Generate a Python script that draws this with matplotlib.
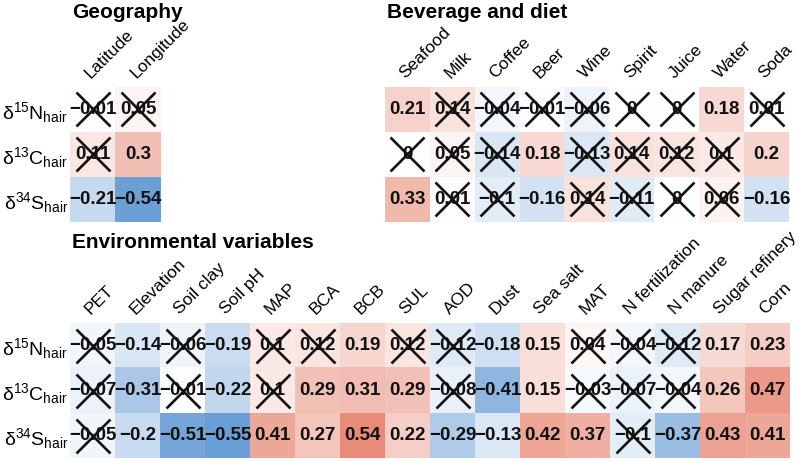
import numpy as np
import matplotlib
matplotlib.use("Agg")
import matplotlib.pyplot as plt
from matplotlib.colors import LinearSegmentedColormap, Normalize

plt.rcParams['font.family'] = ['Liberation Sans', 'DejaVu Sans']
plt.rcParams['mathtext.fontset'] = 'custom'
plt.rcParams['mathtext.rm'] = 'Liberation Sans'
plt.rcParams['mathtext.it'] = 'Liberation Sans:italic'

rows = ['\u03b4$^{15}$N$_{\\mathrm{hair}}$',
        '\u03b4$^{13}$C$_{\\mathrm{hair}}$',
        '\u03b4$^{34}$S$_{\\mathrm{hair}}$']

# Geography
geo_cols = ["Latitude", "Longitude"]
geo_N = [-0.01, 0.05]
geo_C = [0.11, 0.3]
geo_S = [-0.21, -0.54]
geo_ns_N = [1, 1]
geo_ns_C = [1, 0]
geo_ns_S = [0, 0]

# Beverage and diet
bev_cols = ["Seafood", "Milk", "Coffee", "Beer", "Wine", "Spirit", "Juice", "Water", "Soda"]
bev_N = [0.21, 0.14, -0.04, -0.01, -0.06, 0.0, 0.0, 0.18, 0.01]
bev_C = [0.0, 0.05, -0.14, 0.18, -0.13, 0.14, 0.12, 0.1, 0.2]
bev_S = [0.33, 0.01, -0.1, -0.16, 0.14, -0.11, 0.0, 0.06, -0.16]
bev_ns_N = [0, 1, 1, 1, 1, 1, 1, 0, 1]
bev_ns_C = [1, 1, 1, 0, 1, 1, 1, 1, 0]
bev_ns_S = [0, 1, 1, 0, 1, 1, 1, 1, 0]

# Environmental variables
env_cols = ["PET", "Elevation", "Soil clay", "Soil pH", "MAP", "BCA", "BCB", "SUL", "AOD",
            "Dust", "Sea salt", "MAT", "N fertilization", "N manure", "Sugar refinery", "Corn"]
env_N = [-0.05, -0.14, -0.06, -0.19, 0.1, 0.12, 0.19, 0.12, -0.12, -0.18, 0.15, 0.04, -0.04, -0.12, 0.17, 0.23]
env_C = [-0.07, -0.31, -0.01, -0.22, 0.1, 0.29, 0.31, 0.29, -0.08, -0.41, 0.15, -0.03, -0.07, -0.04, 0.26, 0.47]
env_S = [-0.05, -0.2, -0.51, -0.55, 0.41, 0.27, 0.54, 0.22, -0.29, -0.13, 0.42, 0.37, -0.1, -0.37, 0.43, 0.41]
env_ns_N = [1, 0, 1, 0, 1, 1, 0, 1, 1, 0, 0, 1, 1, 1, 0, 0]
env_ns_C = [1, 0, 1, 0, 1, 0, 0, 0, 1, 0, 0, 1, 1, 1, 0, 0]
env_ns_S = [1, 0, 0, 0, 0, 0, 0, 0, 0, 0, 0, 0, 1, 0, 0, 0]

cmap = LinearSegmentedColormap.from_list("div", ["#6A9ED6", "#FFFFFF", "#E88A76"])
norm = Normalize(vmin=-0.55, vmax=0.55)

W, H = 800, 461
fig = plt.figure(figsize=(8, 4.61), dpi=100)


def fmt(v):
    s = f"{round(v, 2):g}"
    if s in ("-0",):
        s = "0"
    return s.replace("-", "\u2212")


def panel(x0, x1, y0, y1, cols, vals, ns, row_labels):
    ax = fig.add_axes([x0 / W, 1 - y1 / H, (x1 - x0) / W, (y1 - y0) / H])
    data = np.array(vals, dtype=float)
    ax.imshow(data, cmap=cmap, norm=norm, aspect='auto', interpolation='nearest')
    nsa = np.array(ns)
    for i in range(data.shape[0]):
        for j in range(data.shape[1]):
            ax.text(j, i, fmt(data[i, j]), ha='center', va='center',
                    fontsize=13.5, fontweight='bold', color='#111111')
    yy, xx = np.nonzero(nsa)
    ax.plot(xx, yy, ls='none', marker='x', ms=24, mew=1.9, color='#111111')
    ax.xaxis.tick_top()
    ax.set_xticks(range(len(cols)))
    ax.set_xticklabels(cols, rotation=45, ha='left', va='bottom',
                       rotation_mode='anchor', fontsize=12.5)
    ax.tick_params(axis='both', length=0, pad=4)
    if row_labels:
        ax.set_yticks(range(3))
        ax.set_yticklabels(rows, fontsize=14)
        ax.tick_params(axis='y', pad=1.5)
    else:
        ax.set_yticks([])
    for s in ax.spines.values():
        s.set_visible(False)
    return ax


panel(70, 161, 87, 222, geo_cols, [geo_N, geo_C, geo_S],
      [geo_ns_N, geo_ns_C, geo_ns_S], True)
panel(385, 789, 87, 222, bev_cols, [bev_N, bev_C, bev_S],
      [bev_ns_N, bev_ns_C, bev_ns_S], False)
panel(70, 790, 323, 458, env_cols, [env_N, env_C, env_S],
      [env_ns_N, env_ns_C, env_ns_S], True)

fig.text(72 / W, 1 - 18 / H, "Geography", fontsize=15, fontweight='bold', ha='left', va='baseline')
fig.text(387 / W, 1 - 18 / H, "Beverage and diet", fontsize=15, fontweight='bold', ha='left', va='baseline')
fig.text(72 / W, 1 - 248 / H, "Environmental variables", fontsize=15, fontweight='bold', ha='left', va='baseline')

fig.savefig("out.png", dpi=100)
